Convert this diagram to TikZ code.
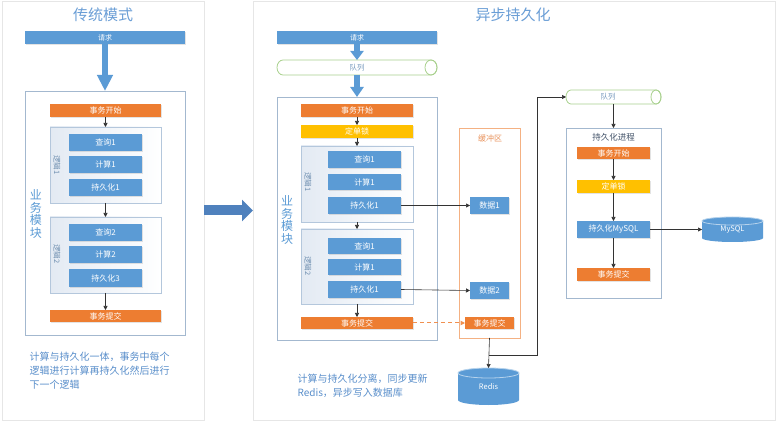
\documentclass[tikz,border=0pt]{standalone}
\usepackage{fontspec}
\setmainfont{Noto Sans CJK SC}
\usetikzlibrary{arrows.meta,shadows}
\definecolor{bblue}{HTML}{5B9BD5}
\definecolor{borange}{HTML}{ED7D31}
\definecolor{byellow}{HTML}{FFC000}
\definecolor{bigarrow}{HTML}{4F81BD}
\definecolor{panelline}{HTML}{E6E6E6}
\definecolor{bizline}{HTML}{A3B8CF}
\definecolor{logicline}{HTML}{B4C7DC}
\definecolor{logicfill}{HTML}{E3EAF3}
\definecolor{titleblue}{HTML}{6A9ED6}
\definecolor{noteblue}{HTML}{5A8FCB}
\definecolor{qgreen}{HTML}{A9D18E}
\definecolor{qtext}{HTML}{7A9CC0}
\definecolor{bufline}{HTML}{F4B183}
\definecolor{buftext}{HTML}{E9925B}
\definecolor{darktext}{HTML}{44546A}
\definecolor{conn}{HTML}{333333}
\definecolor{logictext}{HTML}{6F8FB0}
\tikzset{
  span/.style n args={4}{inner sep=0pt, outer sep=0pt, anchor=center,
    at={({(#1+#3)/2},{(#2+#4)/2})},
    minimum width={(#3-#1)*1pt}, minimum height={(#4-#2)*1pt}},
  panel/.style={draw=panelline, fill=white, line width=0.6pt},
  bizbox/.style={draw=bizline, line width=0.8pt},
  logic/.style={draw=logicline, left color=logicfill, right color=white, line width=0.6pt},
  blk/.style={text=white, font=\fontsize{8}{8}\selectfont,
    drop shadow={shadow xshift=0.7pt, shadow yshift=-0.7pt, opacity=0.22}},
  bluebox/.style={blk, fill=bblue},
  orangebox/.style={blk, fill=borange},
  yellowbox/.style={blk, fill=byellow},
  flow/.style={draw=conn, line width=0.6pt, -{Triangle[length=4pt,width=4pt]}},
  fatarrow/.style={draw=bblue, line width=6pt},
  ptitle/.style={text=titleblue, font=\fontsize{15}{15}\selectfont},
  vlabel/.style={text=bblue, align=center, font=\fontsize{12}{12.5}\selectfont},
  llabel/.style={text=logictext, rotate=-90, font=\fontsize{7.5}{7.5}\selectfont},
  note/.style={text=noteblue, align=left, anchor=north west, font=\fontsize{10}{14}\selectfont},
  qlabel/.style={text=qtext, font=\fontsize{7.5}{7.5}\selectfont}
}
\begin{document}
\begin{tikzpicture}[x=1pt,y=-1pt]
\useasboundingbox (0,0) rectangle (777,422);
% panels
\node[panel, span={2}{1}{204}{420}] (lp) {};
\node[panel, span={253}{1}{775}{420}] (rp) {};
\node[ptitle] (t1) at (103,15) {传统模式};
\node[ptitle] (t2) at (513,15) {异步持久化};
% ================= left =================
\node[bluebox, span={25}{31}{185}{44}, font=\fontsize{7}{7}\selectfont] (req1) {请求};
\node[bizbox, span={25}{91}{185}{335}] (biz1) {};
\node[vlabel] (bl1) at (36,214) {业\\务\\模\\块};
\node[orangebox, span={50}{104}{161}{117}] (ts1) {事务开始};
\node[logic, span={50}{127}{161}{203}] (lg1) {};
\node[llabel] (ll1) at (57,165) {逻辑1};
\node[bluebox, span={69}{134}{142}{151}] (q1) {查询1};
\node[bluebox, span={69}{156}{142}{173}] (c1) {计算1};
\node[bluebox, span={69}{179}{142}{196}] (p1) {持久化1};
\node[logic, span={50}{217}{161}{293}] (lg2) {};
\node[llabel] (ll2) at (57,254) {逻辑2};
\node[bluebox, span={69}{224}{142}{241}] (q2) {查询2};
\node[bluebox, span={69}{246}{142}{263}] (c2) {计算2};
\node[bluebox, span={69}{269}{142}{287}] (p2) {持久化3};
\node[orangebox, span={50}{310}{161}{322}] (tc1) {事务提交};
\node[note] (n1) at (26,349) {计算与持久化一体，事务中每个\\逻辑进行计算再持久化然后进行\\下一个逻辑};
\draw[fatarrow, -{Triangle[length=16pt,width=15pt]}] (req1.south) -- (biz1.north);
\draw[flow] (ts1.south) -- (lg1.north);
\draw[flow] (lg1.south) -- (lg2.north);
\draw[flow] (lg2.south) -- (tc1.north);
% middle arrow
\draw[draw=bigarrow, line width=10pt, -{Triangle[length=11pt,width=21pt]}] (lp.east) -- (rp.west);
% ================= right =================
\node[bluebox, span={277}{31}{437}{44}, font=\fontsize{7}{7}\selectfont] (req2) {请求};
% queue 1 cylinder
\draw[draw=qgreen, fill=white, line width=0.8pt]
  (283,60) -- (431,60) arc[start angle=-90, end angle=90, x radius=6, y radius=7.5]
  -- (283,75) arc[start angle=90, end angle=270, x radius=6, y radius=7.5] -- cycle;
\draw[draw=qgreen, line width=0.8pt] (431,67.5) ellipse[x radius=6, y radius=7.5];
\node[span={277}{60}{437}{75}] (qu1) {};
\node[qlabel] (qu1t) at (357,67.5) {队列};
\draw[fatarrow, -{Triangle[length=9pt,width=13pt]}] (req2.south) -- (qu1.north);
\node[bizbox, span={277}{97}{437}{340}] (biz2) {};
\draw[fatarrow, -{Triangle[length=10pt,width=13pt]}] (qu1.south) -- (biz2.north);
\node[vlabel] (bl2) at (287,220) {业\\务\\模\\块};
\node[orangebox, span={301}{104}{413}{117}] (ts2) {事务开始};
\node[yellowbox, span={301}{125}{413}{138}] (lk2) {定单锁};
\node[logic, span={301}{146}{413}{222}] (lg3) {};
\node[llabel] (ll3) at (308,182) {逻辑1};
\node[bluebox, span={328}{151}{401}{168}] (q3) {查询1};
\node[bluebox, span={328}{174}{401}{190}] (c3) {计算1};
\node[bluebox, span={328}{197}{401}{214}] (p3) {持久化1};
\node[logic, span={301}{229}{413}{304}] (lg4) {};
\node[llabel] (ll4) at (308,266) {逻辑2};
\node[bluebox, span={328}{238}{401}{254}] (q4) {查询1};
\node[bluebox, span={328}{259}{401}{275}] (c4) {计算1};
\node[bluebox, span={328}{281}{401}{298}] (p4) {持久化1};
\node[orangebox, span={301}{317}{413}{329}] (tc2) {事务提交};
\draw[flow] (ts2.south) -- (lk2.north);
\draw[flow] (lk2.south) -- (lg3.north);
\draw[flow] (lg3.south) -- (lg4.north);
\draw[flow] (lg4.south) -- (tc2.north);
\node[note] (n2) at (294,370) {计算与持久化分离，同步更新\\Redis，异步写入数据库};
% buffer
\node[draw=bufline, line width=0.8pt, span={459}{128}{520}{338}] (buf) {};
\node[text=buftext, font=\fontsize{8}{8}\selectfont] (buft) at (490,138) {缓冲区};
\node[bluebox, span={470}{197}{509}{214}] (d1) {数据1};
\node[bluebox, span={470}{282}{509}{299}] (d2) {数据2};
\node[orangebox, span={465}{317}{514}{329}] (tc3) {事务提交};
\draw[flow] (p3.east) -- (d1.west);
\draw[flow] (p4.east) -- (d2.west);
\draw[draw=borange!85!white, line width=1pt, dash pattern=on 4pt off 3pt, -{Triangle[length=4.5pt,width=4.5pt]}] (tc2.east) -- (tc3.west);
% redis cylinder
\fill[bblue] (458,373) -- (458,400) arc[start angle=180, end angle=0, x radius=30.5, y radius=5]
  -- (519,373) arc[start angle=0, end angle=-180, x radius=30.5, y radius=5] -- cycle;
\draw[draw=white!55!bblue, line width=0.8pt] (488.5,373) ellipse[x radius=30.5, y radius=5];
\node[span={458}{368}{519}{405}, text=white, font=\fontsize{7.5}{7.5}\selectfont] (redis) {\raisebox{-2.5pt}{Redis}};
\coordinate (br) at (489,355);
\coordinate (cr) at (537,355);
\draw[flow] (buf.south) -- (redis.north);
% queue 2 cylinder
\draw[draw=qgreen, fill=white, line width=0.8pt]
  (571,90) -- (656,90) arc[start angle=-90, end angle=90, x radius=5, y radius=7]
  -- (571,104) arc[start angle=90, end angle=270, x radius=5, y radius=7] -- cycle;
\draw[draw=qgreen, line width=0.8pt] (656,97) ellipse[x radius=5, y radius=7];
\node[span={566}{90}{661}{104}] (qu2) {};
\node[qlabel] (qu2t) at (608,97) {队列};
\draw[flow] (br) -- (cr) |- (qu2.west);
% persistence process
\node[bizbox, span={566}{128}{661}{298}] (pp) {};
\node[text=darktext, font=\fontsize{8.5}{8.5}\selectfont] (ppt) at (613.5,137) {持久化进程};
\node[orangebox, span={577}{147}{650}{159}] (ts3) {事务开始};
\node[yellowbox, span={577}{180}{650}{193}] (lk3) {定单锁};
\node[bluebox, span={577}{221}{650}{238}] (pm) {持久化MySQL};
\node[orangebox, span={577}{268}{650}{281}] (tc4) {事务提交};
\draw[flow] (qu2.south) -- (pp.north);
\draw[flow] (ts3.south) -- (lk3.north);
\draw[flow] (lk3.south) -- (pm.north);
\draw[flow] (pm.south) -- (tc4.north);
% mysql cylinder
\fill[bblue] (702,221) -- (702,238) arc[start angle=180, end angle=0, x radius=30.5, y radius=4]
  -- (763,221) arc[start angle=0, end angle=-180, x radius=30.5, y radius=4] -- cycle;
\draw[draw=white!55!bblue, line width=0.8pt] (732.5,221) ellipse[x radius=30.5, y radius=4];
\node[span={702}{217}{763}{242}, text=white, font=\fontsize{7.5}{7.5}\selectfont] (mysql) {MySQL};
\draw[flow] (pm.east) -- (mysql.west);
\end{tikzpicture}
\end{document}
